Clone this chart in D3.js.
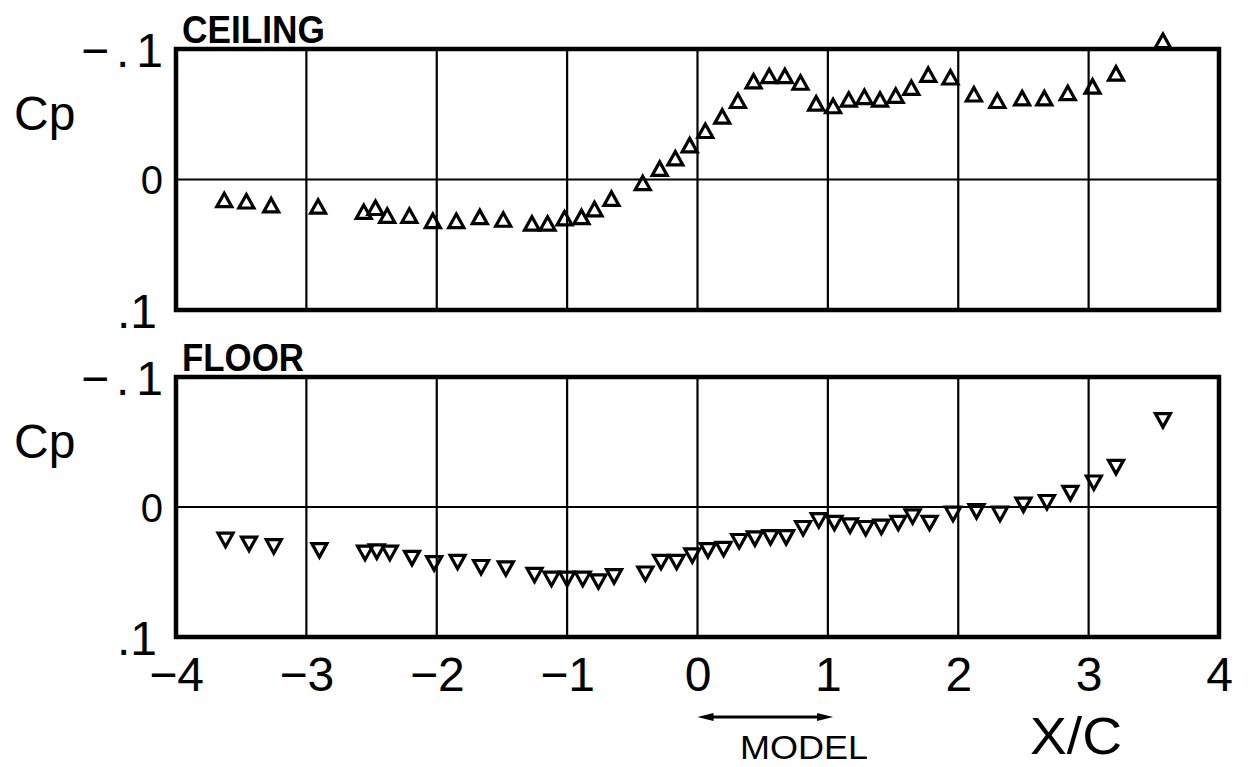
<!DOCTYPE html>
<html>
<head>
<meta charset="utf-8">
<script src="https://cdn.jsdelivr.net/npm/d3@7"></script>
<style>
  html, body { margin: 0; padding: 0; background: #fff; }
  svg { display: block; }
  text { font-family: "Liberation Sans", Arial, sans-serif; fill: #000; }
</style>
</head>
<body>
<svg id="chart" width="1250" height="767"></svg>
<script>
// Station positions (X/C) and pressure coefficients on the tunnel ceiling
const ceilingX = [-3.63, -3.46, -3.27, -2.91, -2.56, -2.47, -2.38, -2.21, -2.03, -1.85, -1.67, -1.49,
  -1.27, -1.15, -1.02, -0.89, -0.79, -0.66, -0.42, -0.29, -0.17, -0.06, 0.06, 0.19, 0.31, 0.43,
  0.55, 0.67, 0.79, 0.91, 1.04, 1.16, 1.28, 1.40, 1.52, 1.64, 1.77, 1.94, 2.12, 2.30, 2.49, 2.66,
  2.84, 3.03, 3.21, 3.57];
const ceilingCp = [0.017, 0.018, 0.021, 0.022, 0.026, 0.023, 0.029, 0.029, 0.033, 0.033, 0.030, 0.032,
  0.035, 0.035, 0.031, 0.030, 0.024, 0.016, 0.004, -0.007, -0.015, -0.025, -0.036, -0.047, -0.059, -0.074,
  -0.078, -0.078, -0.073, -0.057, -0.055, -0.060, -0.062, -0.060, -0.063, -0.069, -0.079, -0.077, -0.064, -0.059, -0.061, -0.061,
  -0.065, -0.070, -0.080, -0.105];

// Station positions (X/C) and pressure coefficients on the tunnel floor
const floorX = [-3.62, -3.44, -3.25, -2.90, -2.55, -2.46, -2.36, -2.19, -2.02, -1.84, -1.66, -1.47,
  -1.25, -1.12, -1.00, -0.88, -0.76, -0.64, -0.40, -0.28, -0.16, -0.04, 0.08, 0.20, 0.32, 0.44,
  0.56, 0.68, 0.81, 0.93, 1.05, 1.17, 1.29, 1.41, 1.54, 1.65, 1.78, 1.96, 2.14, 2.32, 2.50, 2.68,
  2.86, 3.04, 3.21, 3.57];
const floorCp = [0.024, 0.027, 0.029, 0.032, 0.034, 0.033, 0.034, 0.038, 0.042, 0.041, 0.045, 0.046,
  0.051, 0.054, 0.054, 0.054, 0.056, 0.052, 0.050, 0.041, 0.041, 0.036, 0.032, 0.031, 0.025, 0.023,
  0.022, 0.022, 0.015, 0.009, 0.011, 0.013, 0.015, 0.014, 0.011, 0.006, 0.011, 0.004, 0.002, 0.004, -0.003, -0.005,
  -0.012, -0.020, -0.032, -0.068];

// Axis ticks and their printed labels
const xTickValues = [-4, -3, -2, -1, 0, 1, 2, 3, 4];
const xTickLabels = ["\u22124", "\u22123", "\u22122", "\u22121", "0", "1", "2", "3", "4"];
const yTickValues = [-0.1, 0, 0.1];
const yTickLabels = ["\u2212.1", "0", ".1"];

const panelTitles = ["CEILING", "FLOOR"];

const svg = d3.select("#chart");
const left = 176, right = 1219;

const x = d3.scaleLinear().domain([-4, 4]).range([left, right]);

const panels = [
  { title: panelTitles[0], top: 49, bottom: 310, xs: ceilingX, ys: ceilingCp, up: true, titleLen: 143 },
  { title: panelTitles[1], top: 377, bottom: 637, xs: floorX, ys: floorCp, up: false, titleLen: 122 }
];

const triUp = "M0,-8.5 L7.5,5 L-7.5,5 Z";
const triDown = "M0,8.5 L7.5,-5 L-7.5,-5 Z";

panels.forEach(p => {
  const y = d3.scaleLinear().domain([-0.1, 0.1]).range([p.top, p.bottom]);
  const g = svg.append("g");

  // interior grid lines
  g.selectAll("line.vgrid")
    .data(xTickValues.slice(1, -1))
    .join("line")
    .attr("x1", d => x(d)).attr("x2", d => x(d))
    .attr("y1", p.top).attr("y2", p.bottom)
    .attr("stroke", "#000").attr("stroke-width", 2.2);

  g.append("line")
    .attr("x1", left).attr("x2", right)
    .attr("y1", y(0)).attr("y2", y(0))
    .attr("stroke", "#000").attr("stroke-width", 2.2);

  // frame
  g.append("rect")
    .attr("x", left).attr("y", p.top)
    .attr("width", right - left).attr("height", p.bottom - p.top)
    .attr("fill", "none").attr("stroke", "#000").attr("stroke-width", 4.5);

  // left axis labels
  const yAxis = d3.axisLeft(y)
    .tickValues(yTickValues)
    .tickFormat((d, i) => yTickLabels[i])
    .tickSize(0)
    .tickPadding(13);
  const ax = g.append("g").attr("transform", `translate(${left},0)`).call(yAxis);
  ax.select(".domain").remove();
  ax.selectAll("text")
    .style("font-family", '"Liberation Sans", Arial, sans-serif')
    .attr("font-size", d => d === 0 ? 40 : 48)
    .attr("dy", "0.36em")
    .attr("dx", d => d > 0 ? -6 : 0)
    .each(function (d) {
      if (d < 0) d3.select(this).attr("textLength", 82).attr("lengthAdjust", "spacing");
    });

  g.append("text")
    .attr("x", 14).attr("y", (p.top + y(0)) / 2 + 16)
    .attr("font-size", 48)
    .text("Cp");

  g.append("text")
    .attr("x", 182).attr("y", p.top - 6)
    .attr("font-size", 38)
    .attr("font-weight", "bold")
    .attr("textLength", p.titleLen)
    .attr("lengthAdjust", "spacingAndGlyphs")
    .text(p.title);

  // data markers
  g.selectAll("path.mark")
    .data(p.xs.map((v, i) => [v, p.ys[i]]))
    .join("path")
    .attr("transform", d => `translate(${x(d[0])},${y(d[1])})`)
    .attr("d", p.up ? triUp : triDown)
    .attr("fill", "none")
    .attr("stroke", "#000")
    .attr("stroke-width", 3.2)
    .attr("stroke-linejoin", "miter");
});

// bottom axis labels
const xAxis = d3.axisBottom(x)
  .tickValues(xTickValues)
  .tickFormat((d, i) => xTickLabels[i])
  .tickSize(0)
  .tickPadding(20);
const xa = svg.append("g").attr("transform", "translate(0,637)").call(xAxis);
xa.select(".domain").remove();
xa.selectAll("text")
  .style("font-family", '"Liberation Sans", Arial, sans-serif')
  .attr("font-size", 48)
  .attr("dy", "0.71em");

// model chord marker: double arrow spanning X/C = 0 to 1
const arrowY = 717;
const ax0 = x(0), ax1 = x(1.04);
svg.append("line")
  .attr("x1", ax0 + 10).attr("x2", ax1 - 10)
  .attr("y1", arrowY).attr("y2", arrowY)
  .attr("stroke", "#000").attr("stroke-width", 3);
svg.append("path")
  .attr("d", `M${ax0},${arrowY} L${ax0 + 16},${arrowY - 4} L${ax0 + 16},${arrowY + 4} Z`)
  .attr("fill", "#000");
svg.append("path")
  .attr("d", `M${ax1},${arrowY} L${ax1 - 16},${arrowY - 4} L${ax1 - 16},${arrowY + 4} Z`)
  .attr("fill", "#000");

svg.append("text")
  .attr("x", 740).attr("y", 759)
  .attr("font-size", 33)
  .attr("textLength", 128)
  .attr("lengthAdjust", "spacingAndGlyphs")
  .text("MODEL");

svg.append("text")
  .attr("x", 1030).attr("y", 754)
  .attr("font-size", 52)
  .attr("textLength", 92)
  .attr("lengthAdjust", "spacingAndGlyphs")
  .text("X/C");
</script>
</body>
</html>
